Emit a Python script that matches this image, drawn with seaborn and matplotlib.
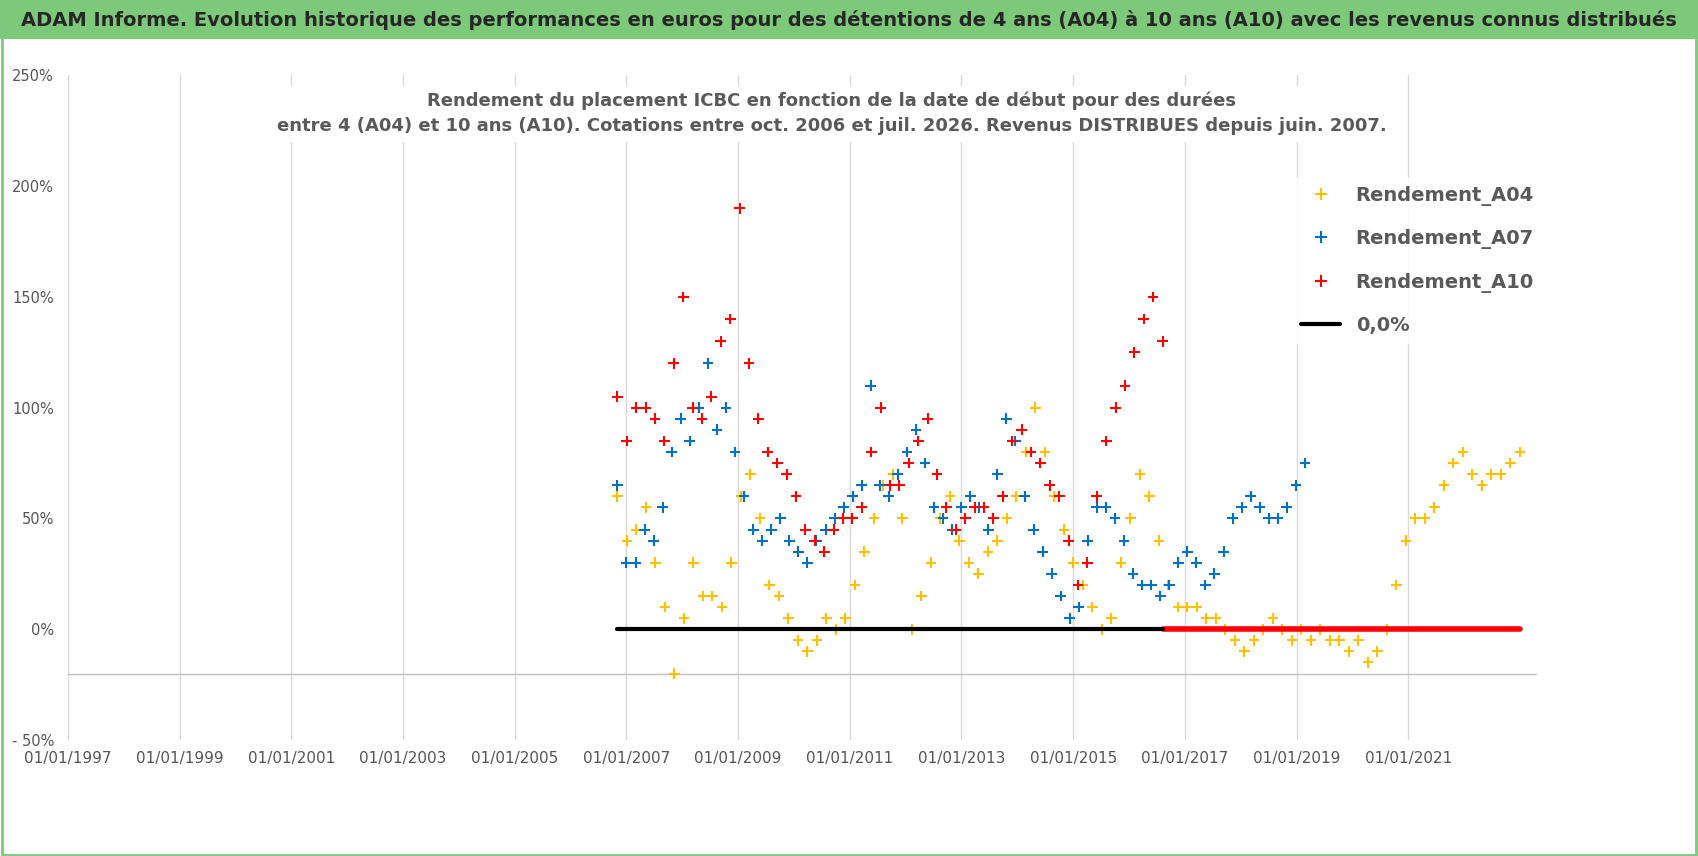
import numpy as np
import pandas as pd
import matplotlib
matplotlib.use("Agg")
import matplotlib.pyplot as plt
from matplotlib.patches import Rectangle
import seaborn as sns

# values in % (about 6 readings per year)
a04 = [60, 40, 45, 55, 30, 10, -20, 5, 30, 15, 15, 10, 30, 60, 70, 50, 20, 15, 5, -5,
       -10, -5, 5, 0, 5, 20, 35, 50, 65, 70, 50, 0, 15, 30, 50, 60, 40, 30, 25, 35,
       40, 50, 60, 80, 100, 80, 60, 45, 30, 20, 10, 0, 5, 30, 50, 70, 60, 40, 20, 10,
       10, 10, 5, 5, 0, -5, -10, -5, 0, 5, 0, -5, 0, -5, 0, -5, -5, -10, -5, -15,
       -10, 0, 20, 40, 50, 50, 55, 65, 75, 80, 70, 65, 70, 70, 75, 80]
a07 = [65, 30, 30, 45, 40, 55, 80, 95, 85, 100, 120, 90, 100, 80, 60, 45, 40, 45, 50, 40,
       35, 30, 40, 45, 50, 55, 60, 65, 110, 65, 60, 70, 80, 90, 75, 55, 50, 45, 55, 60,
       55, 45, 70, 95, 85, 60, 45, 35, 25, 15, 5, 10, 40, 55, 55, 50, 40, 25, 20, 20,
       15, 20, 30, 35, 30, 20, 25, 35, 50, 55, 60, 55, 50, 50, 55, 65, 75]
a10 = [105, 85, 100, 100, 95, 85, 120, 150, 100, 95, 105, 130, 140, 190, 120, 95, 80, 75, 70, 60,
       45, 40, 35, 45, 50, 50, 55, 80, 100, 65, 65, 75, 85, 95, 70, 55, 45, 50, 55, 55,
       50, 60, 85, 90, 80, 75, 65, 60, 40, 20, 30, 60, 85, 100, 110, 125, 140, 150, 130]
a04_span = (2006.84, 2023.0)
a07_span = (2006.84, 2019.15)
a10_span = (2006.84, 2016.6)
zero_end = 2023.0
tick_years = list(range(1997, 2023, 2))

df = pd.concat([
    pd.DataFrame({"annee": np.linspace(*a04_span, len(a04)), "rdt": a04, "serie": "Rendement_A04"}),
    pd.DataFrame({"annee": np.linspace(*a07_span, len(a07)), "rdt": a07, "serie": "Rendement_A07"}),
    pd.DataFrame({"annee": np.linspace(*a10_span, len(a10)), "rdt": a10, "serie": "Rendement_A10"}),
])

sns.set_style("white")
plt.rcParams['font.family'] = ['Liberation Sans Narrow', 'DejaVu Sans']

fig = plt.figure(figsize=(16.98, 8.56), dpi=100)
# banner
fig.patches.append(Rectangle((0, 0.955), 1, 0.045, transform=fig.transFigure,
                             facecolor="#7dc97a", edgecolor="none"))
fig.patches.append(Rectangle((0.001, 0.001), 0.998, 0.998, transform=fig.transFigure,
                             facecolor="none", edgecolor="#7dc97a", lw=2))
fig.text(0.5, 0.977, "ADAM Informe. Evolution historique des performances en euros pour des détentions de 4 ans (A04) à 10 ans (A10) avec les revenus connus distribués",
         ha="center", va="center", fontsize=14, fontweight="bold")

ax = fig.add_axes([0.04, 0.1355, 0.865, 0.7765])
palette = {"Rendement_A04": "#ffc000", "Rendement_A07": "#0070c0", "Rendement_A10": "#ff0000"}
sns.scatterplot(data=df, x="annee", y="rdt", hue="serie", palette=palette, marker="+",
                s=60, linewidth=1.5, ax=ax, legend=False)
ax.plot([a10_span[1], zero_end], [0, 0], color="#ff0000", lw=4)
ax.plot([a10_span[0], a10_span[1]], [0, 0], color="black", lw=3)

ax.set_xlim(1997, 2023.3)
ax.set_ylim(-50, 250)
ax.set_xticks(tick_years)
ax.set_xticklabels([f"01/01/{y}" for y in tick_years], fontsize=11, color="#555555")
ax.set_yticks(range(-50, 251, 50))
ax.set_yticklabels(["- 50%", "0%", "50%", "100%", "150%", "200%", "250%"], fontsize=10.5, color="#555555")
ax.tick_params(axis="y", pad=10, length=0)
ax.tick_params(axis="x", pad=8, length=0)
for y in tick_years:
    ax.axvline(y, color="#d9d9d9", lw=1, zorder=0)
ax.axhline(-20, color="#bfbfbf", lw=1, zorder=0)
for s in ax.spines.values():
    s.set_visible(False)
ax.set_xlabel(""); ax.set_ylabel("")

ax.text(0.52, 0.975, "Rendement du placement ICBC en fonction de la date de début pour des durées\n"
        "entre 4 (A04) et 10 ans (A10). Cotations entre oct. 2006 et juil. 2026. Revenus DISTRIBUES depuis juin. 2007.",
        transform=ax.transAxes, ha="center", va="top", fontsize=13, fontweight="bold",
        color="#595959", linespacing=1.5, backgroundcolor="white")

handles = [plt.Line2D([], [], color=palette[k], marker="+", ls="none", markersize=8, mew=1.5)
           for k in palette]
handles.append(plt.Line2D([], [], color="black", lw=3))
leg = ax.legend(handles, list(palette) + ["0,0%"], loc="upper right", bbox_to_anchor=(1.01, 0.86),
                frameon=True, fontsize=14, labelspacing=1.2, handlelength=2)
leg.get_frame().set_edgecolor("white")
for t in leg.get_texts():
    t.set_color("#595959"); t.set_fontweight("bold")

fig.savefig("out.png", dpi=100)
